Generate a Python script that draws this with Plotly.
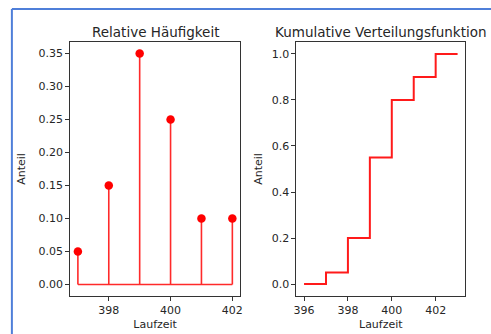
import plotly.graph_objects as go

# Data
laufzeit = [397, 398, 399, 400, 401, 402]
anteil = [0.05, 0.15, 0.35, 0.25, 0.10, 0.10]
cdf_x = [396, 397, 398, 399, 400, 401, 402, 403]
cdf_y = [0.0, 0.05, 0.20, 0.55, 0.80, 0.90, 1.00, 1.00]

W, H = 491, 334
FONT = "DejaVu Sans"
TXT = "#262626"

def px_x(p):
    return p / W

def px_y(p):
    return 1 - p / H

fig = go.Figure()

# stems
sx, sy = [], []
for x, y in zip(laufzeit, anteil):
    sx += [x, x, None]
    sy += [0, y, None]
fig.add_trace(go.Scatter(x=sx, y=sy, mode="lines", line=dict(color="#ff2a2a", width=1.6),
                         xaxis="x", yaxis="y", showlegend=False, hoverinfo="skip"))
# baseline
fig.add_trace(go.Scatter(x=[laufzeit[0], laufzeit[-1]], y=[0, 0], mode="lines",
                         line=dict(color="#ff2a2a", width=1.6), xaxis="x", yaxis="y",
                         showlegend=False, hoverinfo="skip"))
# markers
fig.add_trace(go.Scatter(x=laufzeit, y=anteil, mode="markers",
                         marker=dict(color="#ff0000", size=8.5), xaxis="x", yaxis="y",
                         showlegend=False))
# step cdf
fig.add_trace(go.Scatter(x=cdf_x, y=cdf_y, mode="lines", line=dict(color="#ff1a1a", width=2, shape="hv"),
                         xaxis="x2", yaxis="y2", showlegend=False))

axcommon = dict(showline=True, linecolor="#333333", linewidth=1, mirror=True,
                ticks="outside", ticklen=4, tickcolor="#333333", tickwidth=1,
                showgrid=False, zeroline=False,
                tickfont=dict(family=FONT, size=11, color=TXT))

ydom = [px_y(296), px_y(42)]
fig.update_layout(
    width=W, height=H,
    margin=dict(l=0, r=0, t=0, b=0),
    paper_bgcolor="white", plot_bgcolor="white",
    xaxis=dict(domain=[px_x(68), px_x(240)], range=[396.75, 402.25],
               tickvals=[398, 400, 402], anchor="y",
               title=dict(text="Laufzeit", font=dict(family=FONT, size=11, color=TXT), standoff=4),
               **axcommon),
    yaxis=dict(domain=ydom, range=[-0.0175, 0.3675],
               tickvals=[0, 0.05, 0.10, 0.15, 0.20, 0.25, 0.30, 0.35], tickformat=".2f", anchor="x",
               title=dict(text="Anteil", font=dict(family=FONT, size=11, color=TXT), standoff=10),
               **axcommon),
    xaxis2=dict(domain=[px_x(297), px_x(468)], range=[395.65, 403.35],
                tickvals=[396, 398, 400, 402], anchor="y2",
                title=dict(text="Laufzeit", font=dict(family=FONT, size=11, color=TXT), standoff=4),
                **axcommon),
    yaxis2=dict(domain=ydom, range=[-0.052, 1.052],
                tickvals=[0, 0.2, 0.4, 0.6, 0.8, 1.0], tickformat=".1f", anchor="x2",
                title=dict(text="Anteil", font=dict(family=FONT, size=11, color=TXT), standoff=6),
                **axcommon),
    annotations=[
        dict(text="Relative Häufigkeit", x=px_x(154), y=px_y(32), xref="paper", yref="paper",
             showarrow=False, xanchor="center", yanchor="middle",
             font=dict(family=FONT, size=13.5, color=TXT)),
        dict(text="Kumulative Verteilungsfunktion", x=px_x(382.5), y=px_y(32), xref="paper", yref="paper",
             showarrow=False, xanchor="center", yanchor="middle",
             font=dict(family=FONT, size=13.5, color=TXT)),
    ],
    shapes=[
        dict(type="line", xref="paper", yref="paper", x0=px_x(9), x1=px_x(W + 5), y0=px_y(9), y1=px_y(9),
             line=dict(color="#4f7fd9", width=2)),
        dict(type="line", xref="paper", yref="paper", x0=px_x(9), x1=px_x(9), y0=px_y(9), y1=px_y(H + 5),
             line=dict(color="#4f7fd9", width=2)),
    ],
)

fig.write_html("out.html", config={"displayModeBar": False},
               post_script="document.body.style.margin='0';")
